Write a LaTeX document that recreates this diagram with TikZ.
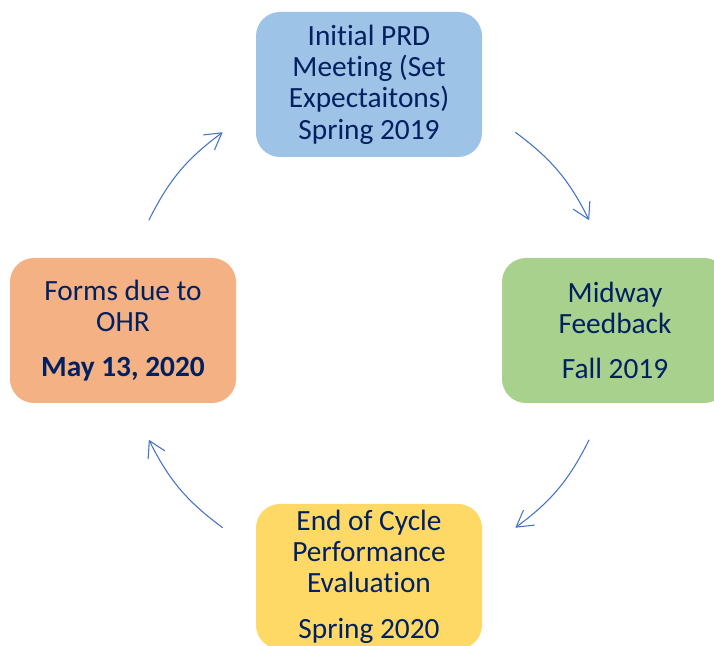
\documentclass[tikz,border=0pt]{standalone}
\usepackage{fontspec}
\setmainfont[Ligatures=NoCommon]{Carlito}
\usetikzlibrary{arrows.meta}
\definecolor{stageblue}{HTML}{9DC3E6}
\definecolor{stagegreen}{HTML}{A9D18E}
\definecolor{stageyellow}{HTML}{FFD966}
\definecolor{stageorange}{HTML}{F4B183}
\definecolor{textnavy}{HTML}{002060}
\definecolor{arrowblue}{HTML}{4472C4}
\tikzset{
  stage/.style={rectangle, rounded corners=18pt, minimum width=169.5pt,
    minimum height=108.75pt, inner sep=0pt, align=center, text=textnavy,
    font=\fontsize{22}{23.5}\selectfont},
  cyclearrow/.style={draw=arrowblue, line width=0.8pt,
    -{Straight Barb[length=12pt,width=14pt]}}
}
\begin{document}
\begin{tikzpicture}[x=0.75pt,y=0.75pt]
    \useasboundingbox (0,0) rectangle (714,646);

    % Centre of the cycle
    \coordinate (hub) at (369,316);

    % Stages
    \node[stage, fill=stageblue] (prd) at (369,561.5)
        {Initial PRD\\Meeting (Set\\Expectaitons)\\Spring 2019};
    \node[stage, fill=stagegreen] (midway) at (615,315.5)
        {Midway\\Feedback\\[10.5pt]Fall 2019};
    \node[stage, fill=stageyellow] (endcycle) at (369,69.5)
        {End of Cycle\\Performance\\Evaluation\\[10.5pt]Spring 2020};
    \node[stage, fill=stageorange] (forms) at (123,315.5)
        {Forms due to\\OHR\\[10.5pt]\textbf{May 13, 2020}};

    % Arc end points
    \coordinate (a1s) at ([shift={(53.5:246)}]hub);
    \coordinate (a1e) at ([shift={(26.5:246)}]hub);
    \coordinate (a2s) at ([shift={(-26.5:246)}]hub);
    \coordinate (a2e) at ([shift={(-53.5:246)}]hub);
    \coordinate (a3s) at ([shift={(-126.5:246)}]hub);
    \coordinate (a3e) at ([shift={(-153.5:246)}]hub);
    \coordinate (a4s) at ([shift={(153.5:246)}]hub);
    \coordinate (a4e) at ([shift={(126.5:246)}]hub);

    % Arrows
    \draw[cyclearrow] (a1s) to[bend left=13.5] (a1e);
    \draw[cyclearrow] (a2s) to[bend left=13.5] (a2e);
    \draw[cyclearrow] (a3s) to[bend left=13.5] (a3e);
    \draw[cyclearrow] (a4s) to[bend left=13.5] (a4e);
\end{tikzpicture}
\end{document}
